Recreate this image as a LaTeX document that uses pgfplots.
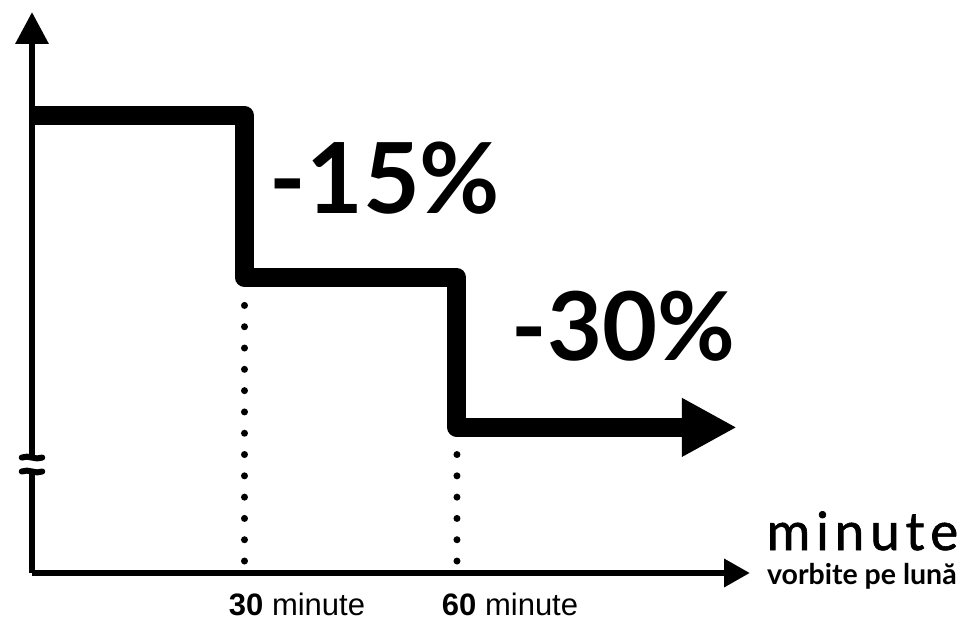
\documentclass[border=0pt]{standalone}
\usepackage{fontspec}
\setmainfont{Lato}
\newfontfamily\arialfont{Liberation Sans}
\usepackage{pgfplots}
\pgfplotsset{compat=1.18}
\usetikzlibrary{arrows.meta}
\begin{document}
\begin{tikzpicture}
\useasboundingbox (0,0) rectangle (973pt,623pt);
\begin{axis}[
  at={(32pt,50pt)}, anchor=south west,
  scale only axis, width=718pt, height=561pt,
  xmin=0, xmax=101.37, ymin=56, ymax=109.94,
  axis lines=left,
  every outer x axis line/.append style={line width=6.5pt, -{Triangle[length=26pt,width=27pt]}},
  every outer y axis line/.append style={line width=6.5pt, -{Triangle[length=32pt,width=32pt]}},
  xtick=\empty, ytick=\empty,
  clip=false,
]
% dotted guide lines
\addplot[line width=7pt, line cap=round, dash pattern=on 0pt off 21.3pt] coordinates {(30,57.15) (30,81.8)};
\addplot[line width=7pt, line cap=round, dash pattern=on 0pt off 21.3pt] coordinates {(60,57.15) (60,67.8)};
% step price line
\addplot[line width=19pt, line join=round, -{Triangle[length=55pt,width=55pt]}]
  coordinates {(0,100) (30,100) (30,84.4) (60,84.4) (60,70) (99.5,70)};
% axis break
\fill[white] (axis cs:-1.3,65.95) rectangle (axis cs:1.3,66.9);
\draw[line width=6pt, line cap=round] (axis cs:-1.45,67.1) .. controls (axis cs:-0.5,67.4) and (axis cs:0.5,66.8) .. (axis cs:1.45,67.1);
\draw[line width=6pt, line cap=round] (axis cs:-1.45,65.76) .. controls (axis cs:-0.5,66.06) and (axis cs:0.5,65.46) .. (axis cs:1.45,65.76);
% labels
\node[font=\fontsize{98}{98}\selectfont\bfseries, inner sep=0pt] at (axis cs:49.84,93.98) {-15\%};
\node[font=\fontsize{95}{95}\selectfont\bfseries, inner sep=0pt] at (axis cs:83.5,79.75) {-30\%};
\node[anchor=base, inner sep=0pt, font=\arialfont\fontsize{31}{31}\selectfont] at (axis cs:37.41,51.96) {\textbf{30} minute};
\node[anchor=base, inner sep=0pt, font=\arialfont\fontsize{31}{31}\selectfont] at (axis cs:67.49,51.96) {\textbf{60} minute};
\node[anchor=base west, inner sep=0pt, font=\fontsize{53}{53}\selectfont\addfontfeature{LetterSpace=11,FakeBold=1.2}] at (axis cs:103.7,58.21) {minute};
\node[anchor=base west, inner sep=0pt, font=\fontsize{28.5}{28.5}\selectfont\bfseries] at (axis cs:103.75,54.94) {vorbite pe lună};
\end{axis}
\end{tikzpicture}
\end{document}
